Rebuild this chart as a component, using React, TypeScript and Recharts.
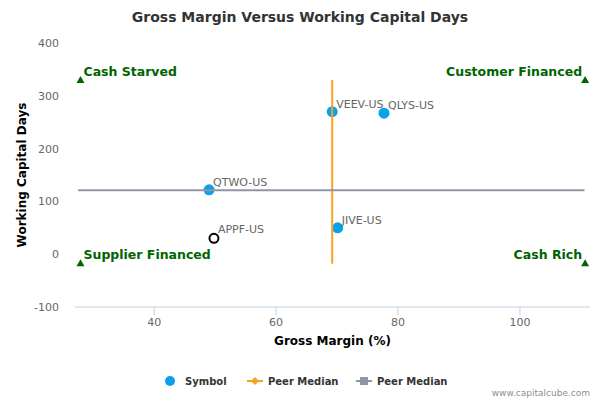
import React from 'react';
import { ScatterChart, Scatter, XAxis, YAxis, Legend, Label } from 'recharts';

const FONT = '"DejaVu Sans", Verdana, sans-serif';

// Peer companies
const peerSymbols = ['QTWO-US', 'VEEV-US', 'QLYS-US', 'JIVE-US'];
const peerGrossMargin = [49.0, 69.2, 77.7, 70.1];
const peerWcDays = [122, 270, 267, 50];

// Subject company
const subjectSymbols = ['APPF-US'];
const subjectGrossMargin = [49.8];
const subjectWcDays = [30];

// Peer medians
const medianGrossMargin = 69.2;
const medianWcDays = 121;
const verticalMedianYRange = [-18, 330];
const horizontalMedianXRange = [27.5, 110.6];

// Quadrant markers
const quadrantLabels = ['Cash Starved', 'Customer Financed', 'Supplier Financed', 'Cash Rich'];
const quadrantX = [27.9, 110.7, 27.9, 110.7];
const quadrantY = [330, 330, -17, -17];
const quadrantAnchor = ['start', 'end', 'start', 'end'];

const xTicks = [40, 60, 80, 100];
const yTicks = [-100, 0, 100, 200, 300, 400];

const peerData = peerSymbols.map((s, i) => ({ name: s, x: peerGrossMargin[i], y: peerWcDays[i] }));
const subjectData = subjectSymbols.map((s, i) => ({ name: s, x: subjectGrossMargin[i], y: subjectWcDays[i] }));
const vMedianData = verticalMedianYRange.map((y) => ({ x: medianGrossMargin, y }));
const hMedianData = horizontalMedianXRange.map((x) => ({ x, y: medianWcDays }));
const quadrantData = quadrantLabels.map((l, i) => ({ name: l, x: quadrantX[i], y: quadrantY[i], anchor: quadrantAnchor[i] }));

const BLUE = '#0ba0ec';
const ORANGE = '#f7a31c';
const GRAY = '#8f96a3';
const GREEN = '#006400';

const PointShape = (props: any) => {
  const { cx, cy, payload } = props;
  return (
    <g>
      <circle cx={cx} cy={cy} r={5.5} fill={BLUE} />
      <text x={cx + 4} y={cy - 4} fontSize={11} fill="#666" fontFamily={FONT}>{payload.name}</text>
    </g>
  );
};

const SubjectShape = (props: any) => {
  const { cx, cy, payload } = props;
  return (
    <g>
      <circle cx={cx} cy={cy} r={4.5} fill="#fff" stroke="#000" strokeWidth={2} />
      <text x={cx + 4} y={cy - 5} fontSize={11} fill="#666" fontFamily={FONT}>{payload.name}</text>
    </g>
  );
};

const QuadrantShape = (props: any) => {
  const { cx, cy, payload } = props;
  const start = payload.anchor === 'start';
  return (
    <g>
      <polygon points={`${cx},${cy - 4} ${cx + 4},${cy + 3} ${cx - 4},${cy + 3}`} fill={GREEN} />
      <text
        x={start ? cx + 3 : cx - 3}
        y={cy - 4}
        textAnchor={start ? 'start' : 'end'}
        fontSize={12.5}
        fontWeight="bold"
        fill={GREEN}
        fontFamily={FONT}
      >
        {payload.name}
      </text>
    </g>
  );
};

const NoShape = () => <g />;

const itemX = [164, 247, 356];
const typeOrder: Record<string, number> = { circle: 0, diamond: 1, square: 2 };

const renderLegend = (props: any) => {
  const payload = (props.payload || [])
    .filter((p: any) => p.type !== 'none')
    .slice()
    .sort((a: any, b: any) => (typeOrder[a.type] ?? 9) - (typeOrder[b.type] ?? 9));
  return (
    <svg width={600} height={22} style={{ display: 'block' }}>
      {payload.map((entry: any, i: number) => {
        const x0 = itemX[i] ?? 164 + i * 100;
        const cy = 10;
        if (entry.type === 'circle') {
          return (
            <g key={i}>
              <circle cx={x0 + 6} cy={cy} r={5} fill={entry.color} />
              <text x={x0 + 21} y={cy + 3.5} fontSize={10} fontWeight="bold" fill="#333" fontFamily={FONT}>{entry.value}</text>
            </g>
          );
        }
        const color = entry.color;
        return (
          <g key={i}>
            <line x1={x0} x2={x0 + 16} y1={cy} y2={cy} stroke={color} strokeWidth={2} />
            {entry.type === 'diamond' ? (
              <polygon points={`${x0 + 8},${cy - 4} ${x0 + 12},${cy} ${x0 + 8},${cy + 4} ${x0 + 4},${cy}`} fill={color} />
            ) : (
              <rect x={x0 + 4} y={cy - 4} width={8} height={8} fill={color} />
            )}
            <text x={x0 + 21} y={cy + 3.5} fontSize={10} fontWeight="bold" fill="#333" fontFamily={FONT}>{entry.value}</text>
          </g>
        );
      })}
    </svg>
  );
};

export default function App() {
  return (
    <div style={{ position: 'absolute', left: 0, top: 0, width: 600, height: 400, background: '#fff' }}>
      <ScatterChart width={600} height={400} margin={{ top: 43, right: 10, bottom: 63, left: 30 }}>
        <text x={300} y={22} textAnchor="middle" fontSize={14} fontWeight="bold" fill="#333" fontFamily={FONT}>
          Gross Margin Versus Working Capital Days
        </text>
        <text x={590} y={396} textAnchor="end" fontSize={9} fill="#909090" fontFamily={FONT}>
          www.capitalcube.com
        </text>
        <XAxis
          type="number"
          dataKey="x"
          domain={[27, 111.5]}
          ticks={xTicks}
          allowDataOverflow
          height={30}
          axisLine={{ stroke: '#C0D0E0' }}
          tickLine={{ stroke: '#C0D0E0' }}
          tickSize={8}
          tickMargin={3}
          tick={{ fill: '#666', fontSize: 11, fontFamily: FONT }}
        >
          <Label
            content={(p: any) => {
              const vb = p.viewBox;
              return (
                <text x={vb.x + vb.width / 2} y={vb.y + 38} textAnchor="middle" fontSize={12} fontWeight="bold" fill="#000" fontFamily={FONT}>
                  Gross Margin (%)
                </text>
              );
            }}
          />
        </XAxis>
        <YAxis
          type="number"
          dataKey="y"
          domain={[-100, 400]}
          ticks={yTicks}
          allowDataOverflow
          width={45}
          axisLine={false}
          tickLine={false}
          tickSize={0}
          tickMargin={16}
          tick={{ fill: '#666', fontSize: 11, fontFamily: FONT }}
        >
          <Label
            content={(p: any) => {
              const vb = p.viewBox;
              const cx = vb.x - 4;
              const cy = vb.y + vb.height / 2;
              return (
                <text x={cx} y={cy} transform={`rotate(-90, ${cx}, ${cy})`} textAnchor="middle" fontSize={12} fontWeight="bold" fill="#000" fontFamily={FONT}>
                  Working Capital Days
                </text>
              );
            }}
          />
        </YAxis>
        <Legend
          layout="horizontal"
          verticalAlign="middle"
          align="center"
          content={renderLegend}
          wrapperStyle={{ left: 0, top: 371, width: 600 }}
        />
        <Scatter name="Symbol" data={peerData} fill={BLUE} legendType="circle" shape={PointShape} isAnimationActive={false} />
        <Scatter name="Peer Median" data={vMedianData} line={{ stroke: ORANGE, strokeWidth: 2 }} lineType="joint" fill={ORANGE} legendType="diamond" shape={NoShape} isAnimationActive={false} />
        <Scatter name="Peer Median" data={hMedianData} line={{ stroke: GRAY, strokeWidth: 2 }} lineType="joint" fill={GRAY} legendType="square" shape={NoShape} isAnimationActive={false} />
        <Scatter name="Subject" data={subjectData} fill="#000" legendType="none" shape={SubjectShape} isAnimationActive={false} />
        <Scatter name="Quadrants" data={quadrantData} fill={GREEN} legendType="none" shape={QuadrantShape} isAnimationActive={false} />
      </ScatterChart>
    </div>
  );
}
